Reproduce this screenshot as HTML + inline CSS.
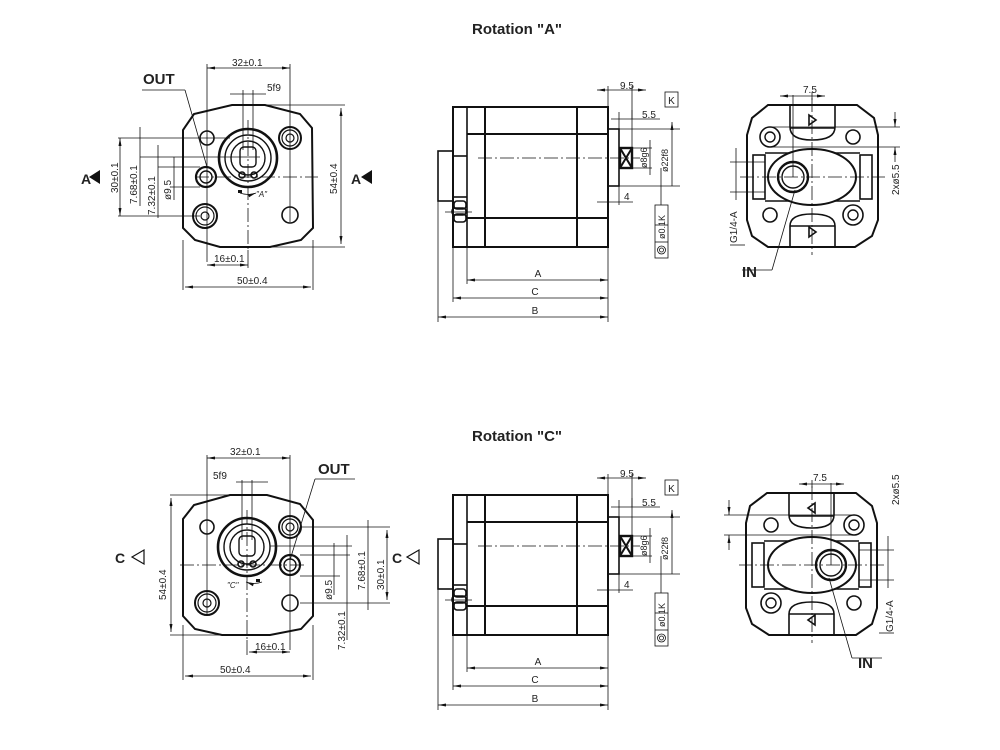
<!DOCTYPE html>
<html><head><meta charset="utf-8"><style>
html,body{margin:0;padding:0;background:#fff;}
svg{display:block;}
text{font-family:"Liberation Sans",sans-serif;fill:#222;}
</style></head><body>
<svg width="1000" height="750" viewBox="0 0 1000 750" xmlns="http://www.w3.org/2000/svg">
<defs>
<marker id="ar" markerWidth="8" markerHeight="6" refX="8" refY="3" orient="auto-start-reverse" markerUnits="userSpaceOnUse"><path d="M0,1.5 L8,3 L0,4.5 z" fill="#111"/></marker>
<g id="side" fill="none" stroke="#111">
  <rect x="453" y="107" width="155" height="140" stroke-width="2"/>
  <line x1="467" y1="107" x2="467" y2="247" stroke-width="1.6"/>
  <line x1="485" y1="107" x2="485" y2="247" stroke-width="2"/>
  <line x1="577" y1="107" x2="577" y2="247" stroke-width="2"/>
  <line x1="467" y1="134" x2="608" y2="134" stroke-width="2"/>
  <line x1="467" y1="218" x2="608" y2="218" stroke-width="2"/>
  <line x1="453" y1="156" x2="467" y2="156" stroke-width="1.6"/>
  <line x1="453" y1="197" x2="467" y2="197" stroke-width="1.6"/>
  <rect x="438" y="151" width="15" height="50" stroke-width="1.6"/>
  <rect x="454" y="201" width="12" height="8" rx="3" stroke-width="1.6"/>
  <rect x="452" y="208" width="14" height="7" rx="3" stroke-width="1.6"/>
  <rect x="454" y="214" width="12" height="8" rx="3" stroke-width="1.6"/>
  <line x1="445" y1="212" x2="472" y2="212" stroke-width="0.8"/>
  <rect x="608" y="129" width="11" height="57" stroke-width="1.6"/>
  <rect x="620" y="148" width="12" height="20" stroke-width="2.4"/>
  <path d="M620,148 L632,168 M632,148 L620,168" stroke-width="2"/>
  <line x1="478" y1="158" x2="640" y2="158" stroke-width="0.8" stroke-dasharray="14,3,2,3"/>
  <g stroke-width="0.8">
  <line x1="438" y1="201" x2="438" y2="322"/>
  <line x1="453" y1="247" x2="453" y2="302"/>
  <line x1="467" y1="247" x2="467" y2="284"/>
  <line x1="608" y1="247" x2="608" y2="322"/>
  <line x1="608" y1="107" x2="608" y2="86"/>
  <line x1="632" y1="148" x2="632" y2="86"/>
  <line x1="619" y1="129" x2="619" y2="112"/>
  <line x1="632" y1="119" x2="632" y2="110"/>
  <line x1="619" y1="186" x2="619" y2="205"/>
  <line x1="619" y1="129" x2="680" y2="129"/>
  <line x1="619" y1="186" x2="680" y2="186"/>
  <line x1="632" y1="148" x2="652" y2="148"/>
  <line x1="632" y1="168" x2="652" y2="168"/>
  <line x1="597" y1="90" x2="646" y2="90" marker-start="url(#ar)" marker-end="url(#ar)"/>
  <line x1="611" y1="119" x2="660" y2="119"/>
  <line x1="597" y1="202" x2="633" y2="202"/>
  <line x1="650" y1="140" x2="650" y2="175"/>
  <line x1="672" y1="122" x2="672" y2="186" marker-start="url(#ar)"/>
  <line x1="661" y1="168" x2="661" y2="205"/>
  <line x1="467" y1="280" x2="608" y2="280" marker-start="url(#ar)" marker-end="url(#ar)"/>
  <line x1="453" y1="298" x2="608" y2="298" marker-start="url(#ar)" marker-end="url(#ar)"/>
  <line x1="438" y1="317" x2="608" y2="317" marker-start="url(#ar)" marker-end="url(#ar)"/>
  <rect x="665" y="92" width="13" height="15"/>
  <rect x="655" y="205" width="13" height="53"/>
  <line x1="655" y1="225" x2="668" y2="225"/><line x1="655" y1="242" x2="668" y2="242"/>
  <circle cx="661.5" cy="250" r="4"/><circle cx="661.5" cy="250" r="2"/>
  </g>
  <text x="671.5" y="104" font-size="10" text-anchor="middle" stroke="none">K</text>
  <text x="620" y="89" font-size="10" stroke="none">9.5</text>
  <text x="642" y="118" font-size="10" stroke="none">5.5</text>
  <text x="624" y="200" font-size="10" stroke="none">4</text>
  <text x="538" y="277" font-size="10" stroke="none" text-anchor="middle">A</text>
  <text x="535" y="295" font-size="10" stroke="none" text-anchor="middle">C</text>
  <text x="535" y="314" font-size="10" stroke="none" text-anchor="middle">B</text>
  <text transform="translate(647,168) rotate(-90)" font-size="9" stroke="none">ø8g6</text>
  <text transform="translate(668,172) rotate(-90)" font-size="9" stroke="none">ø22f8</text>
  <text transform="translate(665,239) rotate(-90)" font-size="9" stroke="none">ø0.1</text>
  <text transform="translate(665,221) rotate(-90)" font-size="9" stroke="none">K</text>
</g>
<g id="port" fill="none" stroke="#111">
  <path d="M768,105 L857,105 L874,118 L878,135 L878,220 L872,236 L855,247 L768,247 L752,236 L747,220 L747,135 L752,118 Z" stroke-width="2"/>
  <path d="M790,105 L790,127 Q790,140 812,140 Q835,140 835,127 L835,105" stroke-width="1.6"/>
  <path d="M790,247 L790,226 Q790,214 812,214 Q835,214 835,226 L835,247" stroke-width="1.6"/>
  <line x1="790" y1="128" x2="835" y2="128" stroke-width="1.4"/>
  <line x1="790" y1="226" x2="835" y2="226" stroke-width="1.4"/>
  <rect x="753" y="155" width="12" height="44" stroke-width="1.6"/>
  <rect x="860" y="155" width="12" height="44" stroke-width="1.6"/>
  <line x1="765" y1="153" x2="860" y2="153" stroke-width="1.4"/>
  <line x1="765" y1="201" x2="860" y2="201" stroke-width="1.4"/>
  <ellipse cx="812" cy="177" rx="44" ry="28" stroke-width="2" fill="#fff"/>
  <circle cx="793" cy="177" r="15" stroke-width="2.4"/>
  <circle cx="793" cy="177" r="11" stroke-width="1.4"/>
  <circle cx="770" cy="137" r="10" stroke-width="1.6"/>
  <circle cx="770" cy="137" r="5" stroke-width="1.4"/>
  <circle cx="853" cy="137" r="7" stroke-width="1.6"/>
  <circle cx="770" cy="215" r="7" stroke-width="1.6"/>
  <circle cx="853" cy="215" r="10" stroke-width="1.6"/>
  <circle cx="853" cy="215" r="5" stroke-width="1.4"/>
  <path d="M809,115 L816,120 L809,125 Z" stroke-width="1.6"/>
  <path d="M809,227 L816,232 L809,237 Z" stroke-width="1.6"/>
  <g stroke-width="0.8">
  <line x1="740" y1="177" x2="885" y2="177" stroke-dasharray="14,3,2,3"/>
  <line x1="812" y1="98" x2="812" y2="255" stroke-dasharray="14,3,2,3"/>
  <line x1="793" y1="95" x2="793" y2="177"/>
  <line x1="812" y1="92" x2="812" y2="100"/>
  <line x1="780" y1="96" x2="825" y2="96" marker-start="url(#ar)" marker-end="url(#ar)"/>
  <line x1="770" y1="127" x2="900" y2="127"/>
  <line x1="770" y1="147" x2="900" y2="147"/>
  <line x1="895" y1="112" x2="895" y2="127" marker-end="url(#ar)"/>
  <line x1="895" y1="162" x2="895" y2="147" marker-end="url(#ar)"/>
  <line x1="730" y1="162" x2="765" y2="162"/>
  <line x1="730" y1="192" x2="765" y2="192"/>
  <line x1="736" y1="148" x2="736" y2="200"/>
  <line x1="795" y1="190" x2="772" y2="270"/>
  <line x1="772" y1="270" x2="742" y2="270"/>
  <line x1="730" y1="245" x2="745" y2="245"/>
  </g>
</g>
</defs>

<text x="472" y="34" font-size="15" font-weight="bold">Rotation "A"</text>
<text x="472" y="441" font-size="15" font-weight="bold">Rotation "C"</text>

<!-- TOP FRONT VIEW -->
<g fill="none" stroke="#111">
  <path d="M232,105 L265,105 L300,114 L312,128 L313,228 L301,240 L270,247 L220,247 L195,240 L183,228 L183,130 L194,114 Z" stroke-width="2"/>
  <circle cx="248" cy="158" r="29" stroke-width="2.6"/>
  <circle cx="248" cy="158" r="23" stroke-width="1.4"/>
  <circle cx="248" cy="158" r="17" stroke-width="1.4"/>
  <rect x="240" y="147" width="16" height="20" rx="4" stroke-width="1.4"/>
  <circle cx="242" cy="175" r="3" stroke-width="1.6"/><circle cx="254" cy="175" r="3" stroke-width="1.6"/>
  <circle cx="207" cy="138" r="7" stroke-width="1.6"/>
  <circle cx="290" cy="138" r="11" stroke-width="2"/><circle cx="290" cy="138" r="8" stroke-width="1.2"/><circle cx="290" cy="138" r="4" stroke-width="1.2"/>
  <circle cx="206" cy="177" r="10" stroke-width="2.2"/><circle cx="206" cy="177" r="6" stroke-width="1.4"/>
  <circle cx="205" cy="216" r="12" stroke-width="2"/><circle cx="205" cy="216" r="9" stroke-width="1.2"/><circle cx="205" cy="216" r="4" stroke-width="1.2"/>
  <circle cx="290" cy="215" r="8" stroke-width="1.6"/>
  <g stroke-width="0.8">
  <line x1="195" y1="177" x2="318" y2="177" stroke-dasharray="14,3,2,3"/>
  <line x1="248" y1="120" x2="248" y2="250" stroke-dasharray="14,3,2,3"/>
  <line x1="207" y1="64" x2="207" y2="262"/>
  <line x1="290" y1="64" x2="290" y2="222"/>
  <line x1="207" y1="68" x2="290" y2="68" marker-start="url(#ar)" marker-end="url(#ar)"/>
  <line x1="243" y1="90" x2="243" y2="150"/><line x1="253" y1="90" x2="253" y2="150"/>
  <line x1="230" y1="94" x2="266" y2="94"/>
  <line x1="265" y1="105" x2="345" y2="105"/><line x1="270" y1="247" x2="345" y2="247"/>
  <line x1="341" y1="108" x2="341" y2="244" marker-start="url(#ar)" marker-end="url(#ar)"/>
  <line x1="183" y1="240" x2="183" y2="290"/><line x1="313" y1="240" x2="313" y2="290"/>
  <line x1="185" y1="287" x2="311" y2="287" marker-start="url(#ar)" marker-end="url(#ar)"/>
  <line x1="248" y1="250" x2="248" y2="268"/>
  <line x1="207" y1="265" x2="248" y2="265" marker-start="url(#ar)" marker-end="url(#ar)"/>
  <line x1="118" y1="138" x2="230" y2="138"/><line x1="118" y1="216" x2="200" y2="216"/>
  <line x1="120" y1="138" x2="120" y2="216" marker-start="url(#ar)" marker-end="url(#ar)"/>
  <line x1="140" y1="157" x2="260" y2="157"/><line x1="140" y1="127" x2="140" y2="206"/>
  <line x1="158" y1="167" x2="200" y2="167"/><line x1="158" y1="145" x2="158" y2="218"/>
  <line x1="170" y1="187" x2="200" y2="187"/><line x1="174" y1="157" x2="174" y2="200"/>
  <line x1="207" y1="167" x2="185" y2="90"/><line x1="185" y1="90" x2="142" y2="90"/>
  <path d="M240,193 Q248,196 256,193" marker-end="url(#ar)"/>
  </g>
  <rect x="238" y="190" width="4" height="3" fill="#111" stroke="none"/>
</g>
<text x="232" y="66" font-size="10">32±0.1</text>
<text x="267" y="91" font-size="10">5f9</text>
<text x="256" y="197" font-size="8" font-style="italic">"A"</text>
<text x="214" y="262" font-size="10">16±0.1</text>
<text x="237" y="284" font-size="10">50±0.4</text>
<text transform="translate(337,194) rotate(-90)" font-size="10">54±0.4</text>
<text transform="translate(118,193) rotate(-90)" font-size="10">30±0.1</text>
<text transform="translate(137,204) rotate(-90)" font-size="10">7.68±0.1</text>
<text transform="translate(155,215) rotate(-90)" font-size="10">7.32±0.1</text>
<text transform="translate(171,200) rotate(-90)" font-size="10">ø9.5</text>
<text x="143" y="84" font-size="15" font-weight="bold">OUT</text>
<text x="81" y="184" font-size="14" font-weight="bold">A</text>
<path d="M89,177 L100,170 L100,184 Z" fill="#111"/>
<text x="351" y="184" font-size="14" font-weight="bold">A</text>
<path d="M361,177 L372,170 L372,184 Z" fill="#111"/>

<use href="#side"/>
<use href="#port"/>
<text x="803" y="93" font-size="10">7.5</text>
<text transform="translate(899,195) rotate(-90)" font-size="10">2xø5.5</text>
<text transform="translate(737,243) rotate(-90)" font-size="10">G1/4-A</text>
<text x="742" y="277" font-size="15" font-weight="bold">IN</text>

<!-- BOTTOM FRONT VIEW -->
<g fill="none" stroke="#111">
  <path d="M230,495 L267,495 L300,504 L313,520 L313,616 L301,629 L270,635 L222,635 L195,629 L183,616 L183,519 L194,505 Z" stroke-width="2"/>
  <circle cx="247" cy="547" r="29" stroke-width="2.6"/>
  <circle cx="247" cy="547" r="23" stroke-width="1.4"/>
  <circle cx="247" cy="547" r="17" stroke-width="1.4"/>
  <rect x="239" y="536" width="16" height="20" rx="4" stroke-width="1.4"/>
  <circle cx="241" cy="564" r="3" stroke-width="1.6"/><circle cx="253" cy="564" r="3" stroke-width="1.6"/>
  <circle cx="207" cy="527" r="7" stroke-width="1.6"/>
  <circle cx="290" cy="527" r="11" stroke-width="2"/><circle cx="290" cy="527" r="8" stroke-width="1.2"/><circle cx="290" cy="527" r="4" stroke-width="1.2"/>
  <circle cx="290" cy="565" r="10" stroke-width="2.2"/><circle cx="290" cy="565" r="6" stroke-width="1.4"/>
  <circle cx="207" cy="603" r="12" stroke-width="2"/><circle cx="207" cy="603" r="9" stroke-width="1.2"/><circle cx="207" cy="603" r="4" stroke-width="1.2"/>
  <circle cx="290" cy="603" r="8" stroke-width="1.6"/>
  <g stroke-width="0.8">
  <line x1="180" y1="565" x2="305" y2="565" stroke-dasharray="14,3,2,3"/>
  <line x1="247" y1="510" x2="247" y2="640" stroke-dasharray="14,3,2,3"/>
  <line x1="207" y1="455" x2="207" y2="615"/>
  <line x1="290" y1="455" x2="290" y2="650"/>
  <line x1="207" y1="458" x2="290" y2="458" marker-start="url(#ar)" marker-end="url(#ar)"/>
  <line x1="242" y1="480" x2="242" y2="540"/><line x1="252" y1="480" x2="252" y2="540"/>
  <line x1="236" y1="482" x2="268" y2="482"/>
  <line x1="170" y1="495" x2="230" y2="495"/><line x1="170" y1="635" x2="222" y2="635"/>
  <line x1="171" y1="498" x2="171" y2="632" marker-start="url(#ar)" marker-end="url(#ar)"/>
  <line x1="183" y1="625" x2="183" y2="680"/><line x1="313" y1="625" x2="313" y2="680"/>
  <line x1="185" y1="676" x2="311" y2="676" marker-start="url(#ar)" marker-end="url(#ar)"/>
  <line x1="247" y1="640" x2="247" y2="655"/>
  <line x1="249" y1="652" x2="290" y2="652" marker-start="url(#ar)" marker-end="url(#ar)"/>
  <line x1="300" y1="527" x2="390" y2="527"/><line x1="300" y1="603" x2="390" y2="603"/>
  <line x1="387" y1="530" x2="387" y2="600" marker-start="url(#ar)" marker-end="url(#ar)"/>
  <line x1="270" y1="546" x2="352" y2="546"/><line x1="368" y1="520" x2="368" y2="610"/>
  <line x1="300" y1="555" x2="350" y2="555"/><line x1="347" y1="535" x2="347" y2="640"/>
  <line x1="300" y1="576" x2="340" y2="576"/><line x1="334" y1="543" x2="334" y2="595"/>
  <line x1="290" y1="560" x2="315" y2="479"/><line x1="315" y1="479" x2="355" y2="479"/>
  <path d="M262,582 Q254,585 246,582" marker-end="url(#ar)"/>
  </g>
  <rect x="256" y="579" width="4" height="3" fill="#111" stroke="none"/>
</g>
<text x="230" y="455" font-size="10">32±0.1</text>
<text x="213" y="479" font-size="10">5f9</text>
<text x="227" y="588" font-size="8" font-style="italic">"C"</text>
<text x="255" y="650" font-size="10">16±0.1</text>
<text x="220" y="673" font-size="10">50±0.4</text>
<text transform="translate(166,600) rotate(-90)" font-size="10">54±0.4</text>
<text transform="translate(384,590) rotate(-90)" font-size="10">30±0.1</text>
<text transform="translate(365,590) rotate(-90)" font-size="10">7.68±0.1</text>
<text transform="translate(345,650) rotate(-90)" font-size="10">7.32±0.1</text>
<text transform="translate(332,600) rotate(-90)" font-size="10">ø9.5</text>
<text x="318" y="474" font-size="15" font-weight="bold">OUT</text>
<text x="115" y="563" font-size="14" font-weight="bold">C</text>
<path d="M132,557 L144,550 L144,564 Z" fill="none" stroke="#111" stroke-width="1.2"/>
<text x="392" y="563" font-size="14" font-weight="bold">C</text>
<path d="M407,557 L419,550 L419,564 Z" fill="none" stroke="#111" stroke-width="1.2"/>

<use href="#side" transform="translate(0,388)"/>
<use href="#port" transform="translate(1624,388) scale(-1,1)"/>
<text x="813" y="481" font-size="10">7.5</text>
<text transform="translate(899,505) rotate(-90)" font-size="10">2xø5.5</text>
<text transform="translate(893,632) rotate(-90)" font-size="10">G1/4-A</text>
<text x="858" y="668" font-size="15" font-weight="bold">IN</text>
</svg>
</body></html>
